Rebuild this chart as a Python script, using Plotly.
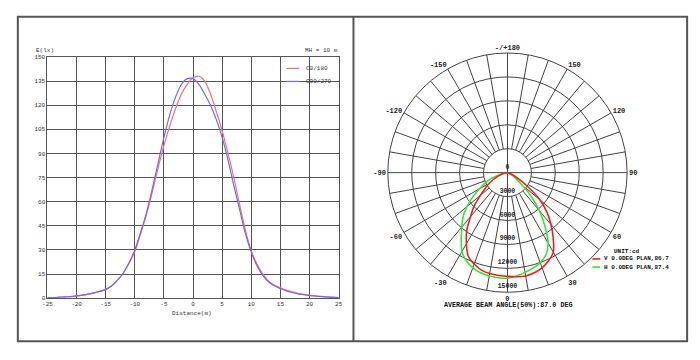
import plotly.graph_objects as go

# ---------------- data: illuminance curve (left) ----------------
distance = list(range(-25, 26))
c0_180 = [0.3, 0.4, 0.6, 0.8, 1.0, 1.4, 1.9, 2.5, 3.3, 4.3,
          5.5, 7.5, 11.0, 15.5, 21.5, 29.0, 40.0, 52.0, 66.0, 81.0,
          95.0, 107.0, 118.0, 127.0, 133.0, 137.0, 138.0, 135.0, 127.0, 116.0,
          104.0, 90.0, 75.0, 58.0, 42.0, 29.5, 21.0, 15.0, 10.5, 8.0,
          6.5, 5.0, 4.0, 3.0, 2.3, 1.8, 1.4, 1.1, 0.8, 0.6, 0.4]
c90_270 = [0.3, 0.4, 0.6, 0.8, 1.0, 1.4, 1.9, 2.5, 3.3, 4.2,
           5.3, 7.5, 11.0, 15.5, 22.0, 30.0, 41.0, 53.0, 68.0, 84.0,
           100.0, 114.0, 125.0, 133.0, 136.5, 136.5, 133.0, 127.0, 120.0, 111.0,
           100.0, 86.0, 70.0, 55.0, 40.0, 28.5, 20.0, 14.0, 10.0, 7.5,
           6.0, 4.5, 3.5, 2.7, 2.1, 1.6, 1.2, 0.9, 0.7, 0.5, 0.4]
x_ticks = [-25, -20, -15, -10, -5, 0, 5, 10, 15, 20, 25]
x_tick_text = ["-25", "-20", "-15", "-10", "-5", "0", "5", "10", "15", "20", "25"]
y_ticks = [0, 15, 30, 45, 60, 75, 90, 105, 120, 135, 150]
line_names = ["C0/180", "C90/270"]

# ---------------- data: polar intensity (right) ----------------
v_theta = [-90, -80, -70, -60, -55, -50, -45, -40, -35, -30, -25, -20, -15, -10, -5,
           0, 5, 10, 15, 20, 25, 30, 35, 40, 45, 50, 55, 60, 70, 80, 90]
v_cd = [0, 300, 1200, 2600, 3400, 4400, 5900, 7200, 8900, 10300, 11600, 12200, 12650, 12850, 12950,
        13000, 13100, 13150, 13000, 12700, 12200, 11500, 10000, 8500, 7000, 5300, 3200, 1700, 500, 100, 0]
h_theta = [-90, -80, -75, -70, -65, -60, -55, -50, -45, -40, -35, -30, -25, -20, -15, -10, -5,
           0, 5, 10, 15, 20, 25, 30, 35, 40, 45, 50, 55, 60, 70, 80, 90]
h_cd = [0, 500, 1100, 2200, 3100, 4050, 5300, 6600, 7900, 8900, 10100, 11400, 12200, 12700, 13000, 13150, 13230,
        13240, 13000, 12700, 12400, 12000, 11400, 10200, 8200, 6200, 4200, 2300, 1300, 700, 200, 50, 0]
polar_names = ["V 0.0DEG PLAN,86.7", "H 0.0DEG PLAN,87.4"]
ang_ticks = [0, 30, 60, 90, 120, 150, 180, 210, 240, 270, 300, 330]
ang_text = ["0", "30", "60", "90", "120", "150", "-/+180", "-150", "-120", "-90", "-60", "-30"]
ring_vals = [3000, 6000, 9000, 12000, 15000]
ring_text = ["3000", "6000", "9000", "12000", "15000"]

W, H = 700, 360
def px(x):
    return x / W
def py(y):
    return 1 - y / H

MONO = "Liberation Mono"
GRID = "#555555"

fig = go.Figure()

# left chart curves
fig.add_trace(go.Scatter(x=distance, y=c0_180, mode="lines", name=line_names[0],
                         line=dict(color="#ff6a6a", width=1.2, shape="spline", smoothing=0.8),
                         showlegend=False, xaxis="x", yaxis="y"))
fig.add_trace(go.Scatter(x=distance, y=c90_270, mode="lines", name=line_names[1],
                         line=dict(color="#6a6aff", width=1.2, shape="spline", smoothing=0.8),
                         showlegend=False, xaxis="x", yaxis="y"))

# polar spokes (grid) starting at the inner ring
sp_r, sp_t = [], []
for a in range(10, 360, 10):
    if a % 90 == 0:
        continue
    sp_r += [ring_vals[0], ring_vals[-1], None]
    sp_t += [a, a, None]
fig.add_trace(go.Scatterpolar(r=sp_r, theta=sp_t, mode="lines",
                              line=dict(color="#444444", width=1), showlegend=False,
                              hoverinfo="skip", subplot="polar"))
# main axes through the centre
fig.add_trace(go.Scatterpolar(r=[ring_vals[-1], ring_vals[-1], None, ring_vals[-1], ring_vals[-1]],
                              theta=[90, 270, None, 0, 180], mode="lines",
                              line=dict(color="#444444", width=1), showlegend=False,
                              hoverinfo="skip", subplot="polar"))

# polar curves
fig.add_trace(go.Scatterpolar(r=h_cd, theta=h_theta, mode="lines", name=polar_names[1],
                              line=dict(color="#33e633", width=1.6, shape="spline"),
                              showlegend=False, subplot="polar"))
fig.add_trace(go.Scatterpolar(r=v_cd, theta=v_theta, mode="lines", name=polar_names[0],
                              line=dict(color="#ff1a1a", width=1.6, shape="spline"),
                              showlegend=False, subplot="polar"))

# radial labels
fig.add_trace(go.Scatterpolar(r=[v - 700 for v in ring_vals] + [700],
                              theta=[0] * len(ring_vals) + [180],
                              mode="text", text=ring_text + ["0"],
                              textfont=dict(family=MONO, size=6.5, color="#222222", weight="bold"),
                              showlegend=False, hoverinfo="skip", subplot="polar"))

fig.update_layout(
    width=W, height=H,
    margin=dict(l=0, r=0, t=0, b=0),
    paper_bgcolor="white", plot_bgcolor="white",
    xaxis=dict(domain=[px(43), px(338)], range=[-25, 25], tickvals=x_ticks, ticktext=x_tick_text,
               showgrid=True, gridcolor=GRID, gridwidth=1, zeroline=False,
               showline=True, mirror=True, linecolor=GRID, linewidth=1, ticks="",
               tickfont=dict(family=MONO, size=6, color="#333333"), anchor="y"),
    yaxis=dict(domain=[py(301), py(55)], range=[0, 150], tickvals=y_ticks,
               showgrid=True, gridcolor=GRID, gridwidth=1, zeroline=False,
               showline=True, mirror=True, linecolor=GRID, linewidth=1, ticks="",
               tickfont=dict(family=MONO, size=6, color="#333333"), anchor="x"),
    polar=dict(
        domain=dict(x=[px(387), px(631)], y=[py(295), py(51)]),
        bgcolor="white",
        angularaxis=dict(rotation=270, direction="counterclockwise",
                         tickvals=ang_ticks, ticktext=ang_text, showgrid=False,
                         showline=True, linecolor="#444444", linewidth=1, ticks="",
                         tickfont=dict(family=MONO, size=7, color="#222222", weight="bold")),
        radialaxis=dict(range=[0, ring_vals[-1]], tickvals=ring_vals, showticklabels=False,
                        showline=False, ticks="", gridcolor="#444444", gridwidth=1),
    ),
)

ann = []
def text(x, y, s, size=6, xanchor="center", bold=False, color="#333333"):
    ann.append(dict(x=px(x), y=py(y), xref="paper", yref="paper", text=s, showarrow=False,
                    xanchor=xanchor, yanchor="middle",
                    font=dict(family=MONO, size=size, color=color, weight="bold" if bold else "normal")))

text(41, 48, "E(lx)")
text(321, 48.7, "MH = 10 m")
text(189, 316.7, "Distance(m)")
text(302.7, 66.7, line_names[0], xanchor="left")
text(302.7, 80, line_names[1], xanchor="left")
text(509.5, 308, "AVERAGE BEAM ANGLE(50%):87.0 DEG", size=6.7, bold=True, color="#111111")
text(615, 253.7, "UNIT:cd", bold=True, xanchor="left", color="#111111")
text(605, 261, polar_names[0], bold=True, xanchor="left", color="#111111")
text(605, 269.3, polar_names[1], bold=True, xanchor="left", color="#111111")
fig.update_layout(annotations=ann)

shapes = [
    dict(type="rect", xref="paper", yref="paper", x0=px(13), x1=px(691), y0=py(345), y1=py(14),
         line=dict(color="#555555", width=2)),
    dict(type="line", xref="paper", yref="paper", x0=px(353), x1=px(353), y0=py(345), y1=py(14),
         line=dict(color="#555555", width=2)),
    dict(type="line", xref="paper", yref="paper", x0=px(285), x1=px(298), y0=py(66.7), y1=py(66.7),
         line=dict(color="#ff6a6a", width=1.2)),
    dict(type="line", xref="paper", yref="paper", x0=px(285), x1=px(298), y0=py(80), y1=py(80),
         line=dict(color="#6a6aff", width=1.2)),
    dict(type="line", xref="paper", yref="paper", x0=px(595), x1=px(603), y0=py(261), y1=py(261),
         line=dict(color="#ff1a1a", width=1.6)),
    dict(type="line", xref="paper", yref="paper", x0=px(595), x1=px(603), y0=py(269.3), y1=py(269.3),
         line=dict(color="#33e633", width=1.6)),
]
fig.update_layout(shapes=shapes)

fig.write_html("out.html", config={"displayModeBar": False},
               post_script="document.body.style.margin='0px';")
